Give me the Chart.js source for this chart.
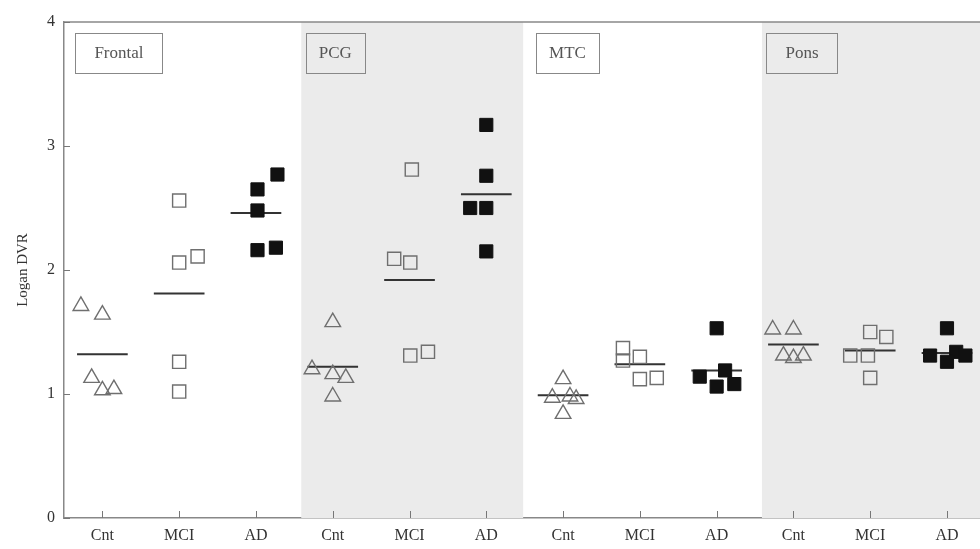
<!DOCTYPE html>
<html lang="en">
<head>
<meta charset="UTF-8">
<title>Logan DVR by region</title>
<script src="https://cdn.jsdelivr.net/npm/chart.js"></script>
<style>
  html, body { margin: 0; padding: 0; background: #fff; }
</style>
</head>
<body>
<canvas id="chart" width="980" height="549"></canvas>
<script>
const regions = ['Frontal', 'PCG', 'MTC', 'Pons'];
const groups = ['Cnt', 'MCI', 'AD'];
const yTicks = [0, 1, 2, 3, 4];

// one row per region: Frontal, PCG, MTC, Pons
const cntValues = [
  [1.71, 1.64, 1.13, 1.03, 1.04],
  [1.58, 1.20, 1.16, 1.13, 0.98],
  [1.12, 0.97, 0.98, 0.96, 0.84],
  [1.52, 1.52, 1.31, 1.31, 1.29]
];
const cntJitter = [
  [-0.28, 0, -0.14, 0, 0.15],
  [0, -0.27, 0, 0.17, 0],
  [0, -0.14, 0.09, 0.17, 0],
  [-0.27, 0, -0.13, 0.13, 0]
];
const mciValues = [
  [2.56, 2.11, 2.06, 1.26, 1.02],
  [2.81, 2.09, 2.06, 1.34, 1.31],
  [1.37, 1.27, 1.30, 1.12, 1.13],
  [1.50, 1.46, 1.31, 1.31, 1.13]
];
const mciJitter = [
  [0, 0.24, 0, 0, 0],
  [0.03, -0.2, 0.01, 0.24, 0.01],
  [-0.22, -0.22, 0, 0, 0.22],
  [0, 0.21, -0.26, -0.03, 0]
];
const adValues = [
  [2.77, 2.65, 2.48, 2.18, 2.16],
  [3.17, 2.76, 2.50, 2.50, 2.15],
  [1.53, 1.19, 1.14, 1.08, 1.06],
  [1.53, 1.34, 1.31, 1.31, 1.26]
];
const adJitter = [
  [0.28, 0.02, 0.02, 0.26, 0.02],
  [0, 0, -0.21, 0, 0],
  [0, 0.11, -0.22, 0.23, 0],
  [0, 0.12, -0.22, 0.24, 0]
];
const meanValues = [
  [1.32, 1.81, 2.46],
  [1.22, 1.92, 2.61],
  [0.99, 1.24, 1.19],
  [1.40, 1.35, 1.33]
];

const serif = "'Liberation Serif', 'DejaVu Serif', serif";

function points(values, jitter, g) {
  const out = [];
  values.forEach((row, r) => {
    row.forEach((v, k) => out.push({ x: r * 3 + g + jitter[r][k], y: v }));
  });
  return out;
}

// mean bars: short horizontal segments, broken by nulls
const meanData = [];
meanValues.forEach((row, r) => {
  row.forEach((m, g) => {
    const i = r * 3 + g;
    meanData.push({ x: i - 0.33, y: m }, { x: i + 0.33, y: m }, { x: i + 0.5, y: null });
  });
});

// shaded panels, top frame, inner ticks and region labels
const decor = {
  id: 'decor',
  beforeDatasetsDraw(chart) {
    const { ctx, chartArea: a, scales: { x, y } } = chart;
    ctx.save();
    ctx.fillStyle = '#ebebeb';
    [1, 3].forEach(r => {
      const x0 = x.getPixelForValue(r * 3 - 0.41);
      const x1 = Math.min(x.getPixelForValue(r * 3 + 2.48), a.right);
      ctx.fillRect(x0, a.top, x1 - x0, a.bottom - a.top);
    });
    ctx.strokeStyle = '#888';
    ctx.lineWidth = 1.5;
    ctx.beginPath();
    ctx.moveTo(a.left, a.top);
    ctx.lineTo(a.right, a.top);
    ctx.stroke();
    ctx.lineWidth = 1;
    ctx.strokeStyle = '#777';
    ctx.beginPath();
    yTicks.forEach(v => {
      const py = Math.round(y.getPixelForValue(v)) + 0.5;
      ctx.moveTo(a.left, py);
      ctx.lineTo(a.left + 6, py);
    });
    for (let i = 0; i < regions.length * groups.length; i++) {
      const px = Math.round(x.getPixelForValue(i)) + 0.5;
      ctx.moveTo(px, a.bottom);
      ctx.lineTo(px, a.bottom - 7);
    }
    ctx.stroke();
    ctx.restore();
  },
  afterDatasetsDraw(chart) {
    const { ctx, scales: { x } } = chart;
    ctx.save();
    ctx.font = '17px ' + serif;
    ctx.textBaseline = 'middle';
    ctx.textAlign = 'center';
    regions.forEach((name, r) => {
      const w = ctx.measureText(name).width + (name.length > 3 ? 38 : 26);
      const bx = x.getPixelForValue(r * 3) - 27;
      const by = 33;
      ctx.fillStyle = r % 2 ? '#ebebeb' : '#fff';
      ctx.fillRect(bx, by, w, 40);
      ctx.strokeStyle = '#888';
      ctx.lineWidth = 1;
      ctx.strokeRect(Math.round(bx) + 0.5, by + 0.5, Math.round(w), 40);
      ctx.fillStyle = '#555';
      ctx.fillText(name, bx + w / 2, by + 21);
    });
    ctx.restore();
  }
};

const openGrey = '#6f6f6f';

new Chart(document.getElementById('chart'), {
  type: 'scatter',
  data: {
    datasets: [
      {
        type: 'line',
        label: 'mean',
        data: meanData,
        borderColor: '#333',
        borderWidth: 2,
        pointRadius: 0,
        spanGaps: false,
        order: 4
      },
      {
        label: 'Cnt',
        data: points(cntValues, cntJitter, 0),
        pointStyle: 'triangle',
        pointRadius: 9,
        borderColor: openGrey,
        backgroundColor: 'rgba(0,0,0,0)',
        borderWidth: 1.4,
        order: 1
      },
      {
        label: 'MCI',
        data: points(mciValues, mciJitter, 1),
        pointStyle: 'rect',
        pointRadius: 9.3,
        borderColor: openGrey,
        backgroundColor: 'rgba(0,0,0,0)',
        borderWidth: 1.4,
        order: 2
      },
      {
        label: 'AD',
        data: points(adValues, adJitter, 2),
        pointStyle: 'rect',
        pointRadius: 9.3,
        borderColor: '#111',
        backgroundColor: '#111',
        borderWidth: 1,
        order: 3
      }
    ]
  },
  options: {
    responsive: false,
    animation: false,
    layout: { autoPadding: false, padding: { top: 22, right: 0, bottom: 0, left: 0 } },
    plugins: {
      legend: { display: false },
      tooltip: { enabled: false }
    },
    scales: {
      x: {
        type: 'linear',
        min: -0.5,
        max: 11.43,
        grid: { display: false, drawTicks: false },
        border: { color: '#888', width: 1.5 },
        afterBuildTicks: s => { s.ticks = groups.concat(groups, groups, groups).map((_, i) => ({ value: i })); },
        afterFit: s => { s.height = 31; s.paddingLeft = 0; s.paddingRight = 0; },
        ticks: {
          autoSkip: false,
          maxRotation: 0,
          padding: 8,
          color: '#333',
          font: { family: serif, size: 16 },
          callback: v => groups[Math.round(v) % 3]
        }
      },
      y: {
        min: 0,
        max: 4,
        grid: { display: false, drawTicks: false },
        border: { color: '#888', width: 1.5 },
        afterBuildTicks: s => { s.ticks = yTicks.map(v => ({ value: v })); },
        afterFit: s => { s.width = 64; },
        ticks: {
          padding: 9,
          color: '#333',
          font: { family: serif, size: 16 }
        },
        title: {
          display: true,
          text: 'Logan DVR',
          color: '#333',
          padding: { top: 14, bottom: 0 },
          font: { family: serif, size: 15 }
        }
      }
    }
  },
  plugins: [decor]
});
</script>
</body>
</html>
